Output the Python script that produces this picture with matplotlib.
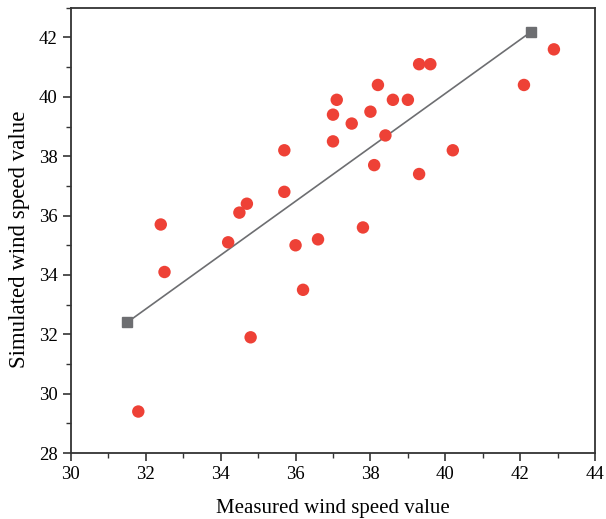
import matplotlib
matplotlib.use("Agg")
import matplotlib.pyplot as plt
from matplotlib.ticker import MultipleLocator

measured = [31.8, 32.4, 32.5, 34.2, 34.5, 34.7, 34.8, 35.7, 35.7, 36.0, 36.2, 36.6,
            37.0, 37.0, 37.1, 37.5, 37.8, 38.0, 38.1, 38.2, 38.4, 38.6, 39.0, 39.3,
            39.3, 39.6, 40.2, 42.1, 42.9]
simulated = [29.4, 35.7, 34.1, 35.1, 36.1, 36.4, 31.9, 38.2, 36.8, 35.0, 33.5, 35.2,
             39.4, 38.5, 39.9, 39.1, 35.6, 39.5, 37.7, 40.4, 38.7, 39.9, 39.9, 41.1,
             37.4, 41.1, 38.2, 40.4, 41.6]
fit_x = [31.5, 42.3]
fit_y = [32.4, 42.2]

plt.rcParams['font.family'] = ['Liberation Serif', 'DejaVu Serif']
fig = plt.figure(figsize=(6.06, 5.19), dpi=100)
ax = fig.add_axes([0.117, 0.127, 0.865, 0.858])

ax.plot(fit_x, fit_y, color='#6d6e71', lw=1.2, marker='s', markersize=7.5,
        markerfacecolor='#6d6e71', markeredgecolor='#6d6e71', zorder=2)
ax.scatter(measured, simulated, s=80, color='#ee4136', edgecolors='none', zorder=3)

ax.set_xlim(30, 44)
ax.set_ylim(28, 43)
ax.xaxis.set_major_locator(MultipleLocator(2))
ax.xaxis.set_minor_locator(MultipleLocator(1))
ax.yaxis.set_major_locator(MultipleLocator(2))
ax.yaxis.set_minor_locator(MultipleLocator(1))
ax.tick_params(which='major', direction='out', length=6, width=1.2, labelsize=13.5, color='#333333')
ax.tick_params(which='minor', direction='out', length=3.5, width=1.0, color='#333333')
for s in ax.spines.values():
    s.set_linewidth(1.3)
    s.set_color('#333333')

ax.set_xlabel('Measured wind speed value', fontsize=15, labelpad=11)
ax.set_ylabel('Simulated wind speed value', fontsize=16.5, va='center')
ax.yaxis.set_label_coords(-0.098, 0.48)

fig.savefig('out.png', dpi=100)
